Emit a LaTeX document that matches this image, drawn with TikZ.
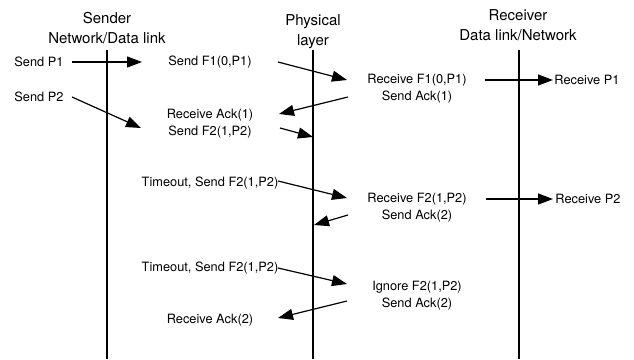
\documentclass[tikz,border=0pt]{standalone}
\usepackage{fontspec}
\setmainfont{TeX Gyre Heros}
\usetikzlibrary{arrows.meta}

\begin{document}
\begin{tikzpicture}[x=1pt,y=-1pt,
            ttl/.style = {align=center,font=\fontsize{15}{20}\selectfont},
            lbl/.style = {inner sep=1pt,font=\fontsize{12.8}{15}\selectfont},
            life/.style = {line width=1.3pt},
            msg/.style = {line width=1.2pt,-{Triangle[length=15pt,width=11pt]}}]
            \useasboundingbox (0,0) rectangle (634,359);
            % column titles
            \node[ttl](snd) at (107,28) {Sender \\ Network/Data link};
            \node[ttl](phy) at (313,32) {Physical \\ layer};
            \node[ttl](rcv) at (518,25) {Receiver \\ Data link/Network};
            % life lines
            \coordinate (sndtop) at (107,50);
            \coordinate (sndbot) at (107,359);
            \coordinate (phytop) at (313,50);
            \coordinate (phybot) at (313,359);
            \coordinate (rcvtop) at (519,50);
            \coordinate (rcvbot) at (519,359);
            \draw[life] (sndtop) -- (sndbot);
            \draw[life] (phytop) -- (phybot);
            \draw[life] (rcvtop) -- (rcvbot);
            % events
            \node[lbl](sp1) at (39,62) {Send P1};
            \node[lbl](sp2) at (39,97) {Send P2};
            \node[lbl](sf1) at (210,62) {Send F1(0,P1)};
            \node[lbl](ra1) at (210,115) {Receive Ack(1)};
            \node[lbl](sf2) at (210,132) {Send F2(1,P2)};
            \node[lbl](to1) at (210,183) {Timeout, Send F2(1,P2)};
            \node[lbl](to2) at (210,268) {Timeout, Send F2(1,P2)};
            \node[lbl](ra2) at (210,320) {Receive Ack(2)};
            \node[lbl](rf1) at (417,80) {Receive F1(0,P1)};
            \node[lbl](sa1) at (417,97) {Send Ack(1)};
            \node[lbl](rf2) at (417,199) {Receive F2(1,P2)};
            \node[lbl](sa2) at (417,216) {Send Ack(2)};
            \node[lbl](ig) at (417,287) {Ignore F2(1,P2)};
            \node[lbl](sa3) at (417,304) {Send Ack(2)};
            \node[lbl](rp1) at (587,80) {Receive P1};
            \node[lbl](rp2) at (588,199) {Receive P2};
            % arrow ends
            \coordinate (m1a) at (72,62);   \coordinate (m1b) at (142,62);
            \coordinate (m2a) at (72,97);   \coordinate (m2b) at (141,128);
            \coordinate (m3a) at (278,62);  \coordinate (m3b) at (347,80);
            \coordinate (m4a) at (348,97);  \coordinate (m4b) at (279,114);
            \coordinate (m5a) at (280,128); \coordinate (m5b) at (313,137);
            \coordinate (m6a) at (278,181); \coordinate (m6b) at (347,198);
            \coordinate (m7a) at (348,215); \coordinate (m7b) at (314,225);
            \coordinate (m8a) at (485,80);  \coordinate (m8b) at (553,80);
            \coordinate (m9a) at (486,199); \coordinate (m9b) at (553,199);
            \coordinate (m10a) at (278,268); \coordinate (m10b) at (347,284);
            \coordinate (m11a) at (347,301); \coordinate (m11b) at (278,318);
            \path
                (m1a) edge[msg] (m1b)
                (m2a) edge[msg] (m2b)
                (m3a) edge[msg] (m3b)
                (m4a) edge[msg] (m4b)
                (m5a) edge[msg] (m5b)
                (m6a) edge[msg] (m6b)
                (m7a) edge[msg] (m7b)
                (m8a) edge[msg] (m8b)
                (m9a) edge[msg] (m9b)
                (m10a) edge[msg] (m10b)
                (m11a) edge[msg] (m11b);
        \end{tikzpicture}
\end{document}
